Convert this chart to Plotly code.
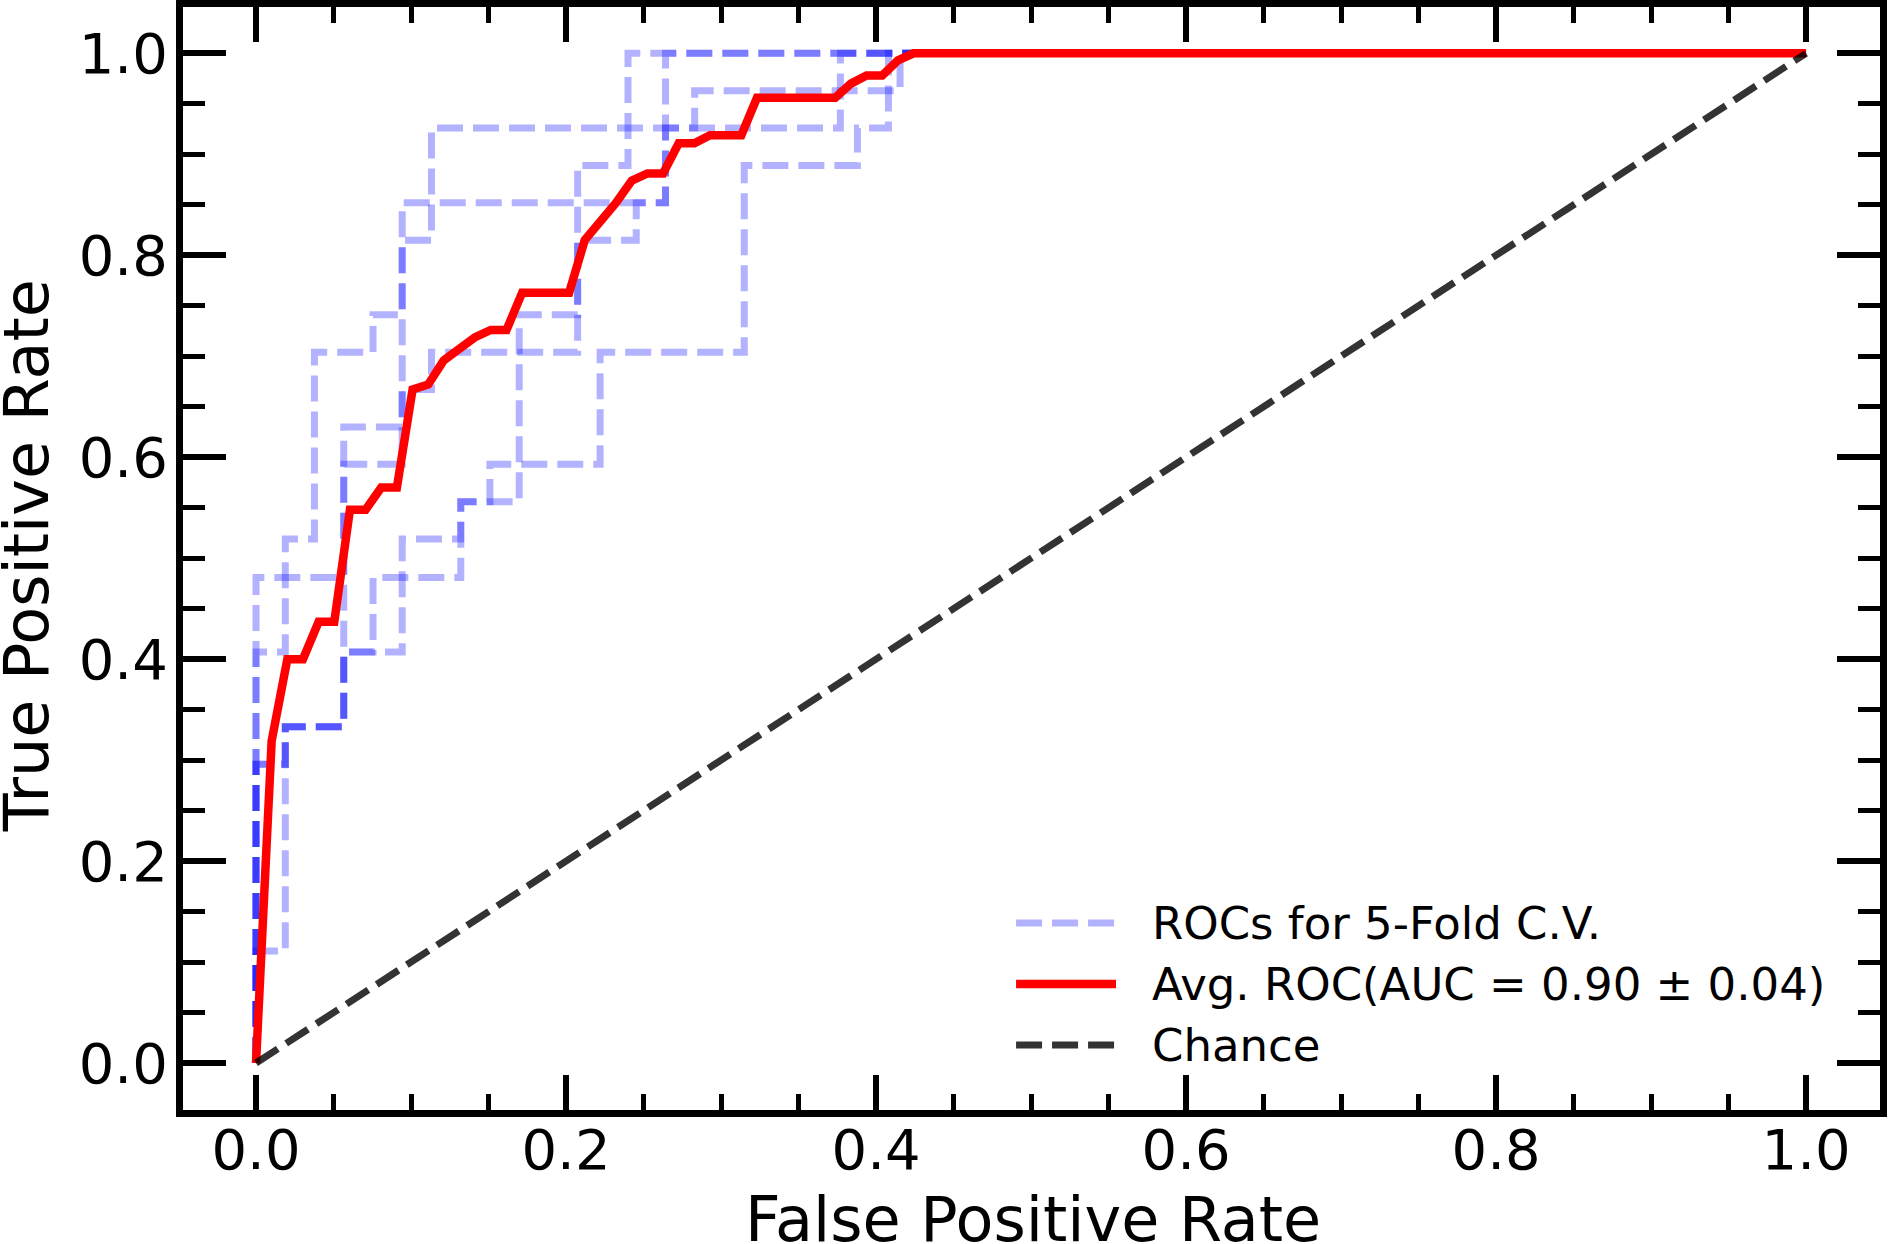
import plotly.graph_objects as go

# per-fold ROC step curves (fpr, tpr)
fold1_fpr = [0, 0, 0.0189, 0.0189, 0.0377, 0.0377, 0.0755, 0.0755, 0.0943, 0.0943, 0.1132, 0.1132, 0.377, 0.377, 1.0]
fold1_tpr = [0, 0.407, 0.407, 0.519, 0.519, 0.704, 0.704, 0.741, 0.741, 0.815, 0.815, 0.926, 0.926, 1.0, 1.0]

fold2_fpr = [0, 0, 0.0189, 0.0189, 0.0566, 0.0566, 0.0943, 0.0943, 0.1321, 0.1321, 0.1509, 0.1509,
             0.222, 0.222, 0.315, 0.315, 0.388, 0.388, 0.408, 0.408, 1.0]
fold2_tpr = [0, 0.296, 0.296, 0.333, 0.333, 0.407, 0.407, 0.519, 0.519, 0.556, 0.556, 0.593,
             0.593, 0.704, 0.704, 0.889, 0.889, 0.926, 0.926, 1.0, 1.0]

fold3_fpr = [0, 0, 0.0189, 0.0189, 0.0566, 0.0566, 0.0755, 0.0755, 0.1321, 0.1321, 0.1698, 0.1698,
             0.2075, 0.2075, 0.240, 0.240, 1.0]
fold3_tpr = [0, 0.111, 0.111, 0.333, 0.333, 0.407, 0.407, 0.481, 0.481, 0.556, 0.556, 0.741,
             0.741, 0.889, 0.889, 1.0, 1.0]

fold4_fpr = [0, 0, 0.0566, 0.0566, 0.0943, 0.0943, 0.1132, 0.1132, 0.2075, 0.2075, 0.2453, 0.2453,
             0.2642, 0.2642, 0.283, 0.283, 0.4155, 0.4155, 1.0]
fold4_tpr = [0, 0.481, 0.481, 0.630, 0.630, 0.667, 0.667, 0.704, 0.704, 0.815, 0.815, 0.852,
             0.852, 0.926, 0.926, 0.963, 0.963, 1.0, 1.0]

fold5_fpr = [0, 0, 0.0189, 0.0189, 0.0566, 0.0566, 0.0943, 0.0943, 0.2642, 0.2642, 1.0]
fold5_tpr = [0, 0.296, 0.296, 0.333, 0.333, 0.593, 0.593, 0.852, 0.852, 1.0, 1.0]

folds = [(fold1_fpr, fold1_tpr), (fold2_fpr, fold2_tpr), (fold3_fpr, fold3_tpr),
         (fold4_fpr, fold4_tpr), (fold5_fpr, fold5_tpr)]

# mean ROC (red line)
mean_fpr = [0, 0.0101, 0.0202, 0.0303, 0.0404, 0.0505, 0.0606, 0.0707, 0.0808, 0.0909,
            0.1010, 0.1111, 0.1212, 0.1313, 0.1414, 0.1515, 0.1616, 0.1717, 0.1818, 0.1919,
            0.2020, 0.2121, 0.2222, 0.2323, 0.2424, 0.2525, 0.2626, 0.2727, 0.2828, 0.2929,
            0.3030, 0.3131, 0.3232, 0.3333, 0.3434, 0.3535, 0.3636, 0.3737, 0.3838, 0.3939,
            0.4040, 0.4141, 0.4242, 1.0]
mean_tpr = [0, 0.319, 0.400, 0.400, 0.437, 0.437, 0.548, 0.548, 0.570, 0.570,
            0.667, 0.672, 0.696, 0.708, 0.719, 0.726, 0.726, 0.763, 0.763, 0.763,
            0.763, 0.815, 0.833, 0.852, 0.874, 0.881, 0.881, 0.911, 0.911, 0.919,
            0.919, 0.919, 0.956, 0.956, 0.956, 0.956, 0.956, 0.956, 0.970, 0.978,
            0.978, 0.993, 1.0, 1.0]

chance_x = [0, 1]
chance_y = [0, 1]

legend_labels = ['ROCs for 5-Fold C.V.', 'Avg. ROC(AUC = 0.90 ± 0.04)', 'Chance']

FONT = 'DejaVu Sans'
FOLD_COLOR = 'rgba(0,0,255,0.3)'
RED = 'rgb(255,0,0)'
CHANCE_COLOR = 'rgba(0,0,0,0.8)'
DASH = '26px,10px'

fig = go.Figure()
for fx, fy in folds:
    fig.add_trace(go.Scatter(x=fx, y=fy, mode='lines',
                             line=dict(color=FOLD_COLOR, width=7, dash=DASH),
                             showlegend=False, hoverinfo='skip'))
fig.add_trace(go.Scatter(x=mean_fpr, y=mean_tpr, mode='lines',
                         line=dict(color=RED, width=8.5), showlegend=False))
fig.add_trace(go.Scatter(x=chance_x, y=chance_y, mode='lines',
                         line=dict(color=CHANCE_COLOR, width=7, dash=DASH), showlegend=False))

# legend drawn by hand so the handles are as long as in the original
handle_styles = [dict(color=FOLD_COLOR, width=7, dash=DASH),
                 dict(color=RED, width=8.5),
                 dict(color=CHANCE_COLOR, width=7, dash=DASH)]
row_y = [0.1695, 0.1142, 0.0589]
for lab, st, ry in zip(legend_labels, handle_styles, row_y):
    fig.add_shape(type='line', xref='paper', yref='paper', x0=0.4909, x1=0.5498, y0=ry, y1=ry,
                  line=st)
    fig.add_annotation(xref='paper', yref='paper', x=0.5698, y=ry, text=lab, showarrow=False,
                       xanchor='left', yanchor='middle', font=dict(family=FONT, size=45, color='black'))

# axis titles as annotations (placed like the original)
fig.add_annotation(xref='paper', yref='paper', x=0.5006, y=-0.0995, text='False Positive Rate',
                   showarrow=False, xanchor='center', yanchor='middle',
                   font=dict(family=FONT, size=62, color='black'))
fig.add_annotation(xref='paper', yref='paper', x=-0.0925, y=0.502, text='True Positive Rate',
                   showarrow=False, xanchor='center', yanchor='middle', textangle=-90,
                   font=dict(family=FONT, size=62, color='black'))

axis_common = dict(
    showline=True, linewidth=7, linecolor='black', mirror='allticks',
    showgrid=False, zeroline=False, automargin=False,
    ticks='inside', tickwidth=5.5, tickcolor='black',
    tickmode='linear', tick0=0, dtick=0.2, tickformat='.1f',
    tickfont=dict(family=FONT, size=56, color='black'),
)

fig.update_layout(
    width=1888, height=1244,
    margin=dict(l=183, r=8, t=7, b=134),
    plot_bgcolor='white', paper_bgcolor='white',
    showlegend=False,
    xaxis=dict(axis_common, range=[-0.0471, 1.0477], ticklen=35, ticklabelstandoff=-15,
               minor=dict(ticks='inside', ticklen=16, tickwidth=4.5, tickcolor='black', dtick=0.05, tick0=0)),
    yaxis=dict(axis_common, range=[-0.0465, 1.0459], ticklen=43, ticklabelstandoff=-3,
               minor=dict(ticks='inside', ticklen=22, tickwidth=4.5, tickcolor='black', dtick=0.05, tick0=0)),
)

# drop the page's default body margin so the figure sits at the window's corner
fig.write_html('out.html', config={'displayModeBar': False},
               post_script="document.body.style.margin='0';")
